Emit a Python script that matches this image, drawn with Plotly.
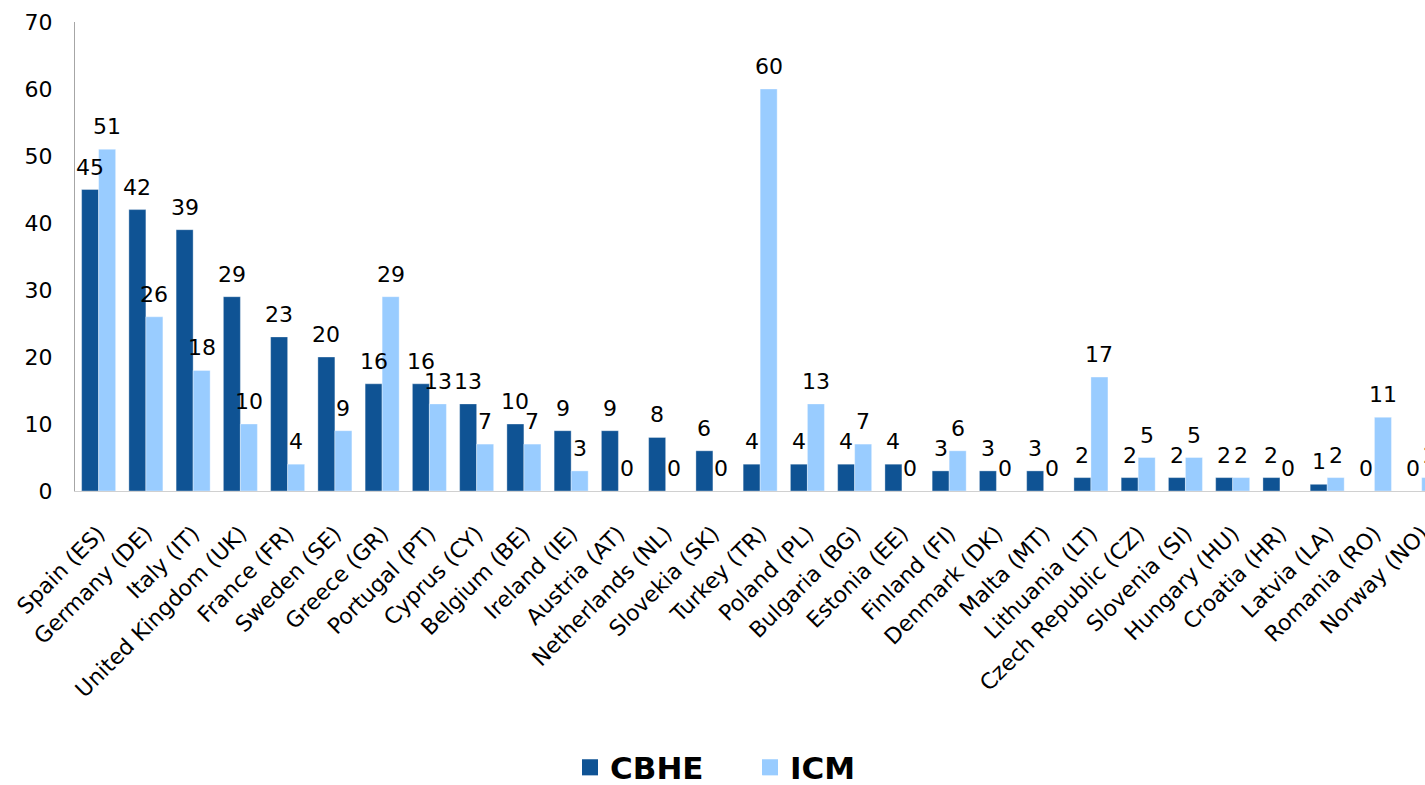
import plotly.graph_objects as go

countries = ["Spain (ES)", "Germany (DE)", "Italy (IT)", "United Kingdom (UK)", "France (FR)",
             "Sweden (SE)", "Greece (GR)", "Portugal (PT)", "Cyprus (CY)", "Belgium (BE)",
             "Ireland (IE)", "Austria (AT)", "Netherlands (NL)", "Slovekia (SK)", "Turkey (TR)",
             "Poland (PL)", "Bulgaria (BG)", "Estonia (EE)", "Finland (FI)", "Denmark (DK)",
             "Malta (MT)", "Lithuania (LT)", "Czech Republic (CZ)", "Slovenia (SI)", "Hungary (HU)",
             "Croatia (HR)", "Latvia (LA)", "Romania (RO)", "Norway (NO)"]
cbhe = [45, 42, 39, 29, 23, 20, 16, 16, 13, 10, 9, 9, 8, 6, 4, 4, 4, 4, 3, 3, 3, 2, 2, 2, 2, 2, 1, 0, 0]
icm = [51, 26, 18, 10, 4, 9, 29, 13, 7, 7, 3, 0, 0, 0, 60, 13, 7, 0, 6, 0, 0, 17, 5, 5, 2, 0, 2, 11, 2]
y_ticks = [0, 10, 20, 30, 40, 50, 60, 70]

FONT = "DejaVu Sans, Verdana, sans-serif"
C_CBHE = "#0F5394"
C_ICM = "#99CCFF"

fig = go.Figure()
fig.add_trace(go.Bar(
    name="CBHE", x=countries, y=cbhe, showlegend=False,
    marker=dict(color=C_CBHE, line=dict(color="rgba(255,255,255,0.35)", width=1)),
))
fig.add_trace(go.Bar(
    name="ICM", x=countries, y=icm, showlegend=False,
    marker=dict(color=C_ICM, line=dict(color="rgba(255,255,255,0.35)", width=1)),
))
# legend entries with larger square symbols
for name, col in (("CBHE", C_CBHE), ("ICM", C_ICM)):
    fig.add_trace(go.Scatter(
        name=name, x=[None], y=[None], mode="markers", showlegend=True,
        marker=dict(symbol="square", size=16, color=col),
    ))

# value labels above each bar (offset to each bar of the group)
annotations = []
for series, shift in ((cbhe, -8.5), (icm, 8.5)):
    for c, v in zip(countries, series):
        annotations.append(dict(
            x=c, y=v, xref="x", yref="y", text=str(v), showarrow=False,
            xshift=shift, yshift=8, yanchor="bottom", xanchor="center",
            font=dict(family=FONT, size=22, color="black"),
        ))

fig.update_layout(
    width=1425, height=785,
    margin=dict(l=75, r=0, t=22, b=294, autoexpand=False),
    paper_bgcolor="white", plot_bgcolor="white",
    barmode="group", bargap=0.28, bargroupgap=0,
    font=dict(family=FONT, size=22, color="black"),
    showlegend=True,
    annotations=annotations,
    legend=dict(orientation="h", x=0.5, xanchor="center", y=-0.59, yanchor="middle",
                font=dict(family=FONT, size=31, color="black", weight="bold"),
                itemsizing="trace", entrywidth=135),
    xaxis=dict(range=[-0.5, 28.07], tickangle=-45, showline=True, linecolor="#D0D0D0",
               linewidth=1, ticks="", showgrid=False, automargin=False,
               ticklabelstandoff=20,
               tickfont=dict(family=FONT, size=22, color="black")),
    yaxis=dict(range=[0, 70], tickvals=y_ticks, showline=True, linecolor="#A6A6A6",
               linewidth=1, ticks="", showgrid=False, zeroline=False, automargin=False,
               ticklabelstandoff=17,
               tickfont=dict(family=FONT, size=22, color="black")),
)

fig.write_html("out.html", config={"displayModeBar": False},
               post_script="document.body.style.margin='0';")
